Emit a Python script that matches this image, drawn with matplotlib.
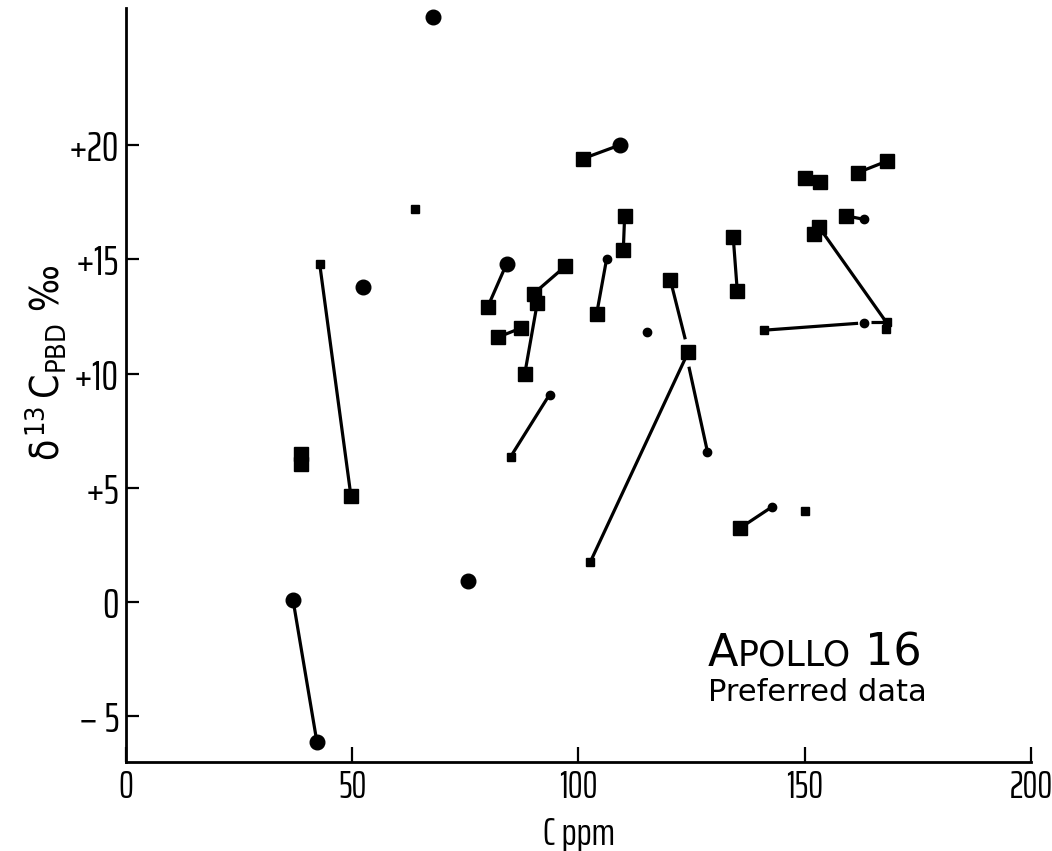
import matplotlib
matplotlib.use("Agg")
import matplotlib.pyplot as plt
from matplotlib import font_manager
from matplotlib.offsetbox import TextArea, HPacker, AnnotationBbox

# the axis numbers are tall and narrow: take an extra-condensed face if any
def pick_font():
    def wt(w):
        return w if isinstance(w, (int, float)) else font_manager.weight_dict.get(w, 400)
    cands = [f for f in font_manager.fontManager.ttflist
             if 'ExtraCondensed' in f.name and f.style == 'normal']
    if cands:
        best = min(cands, key=lambda f: abs(wt(f.weight) - 400))
        return best.name, best.weight, best.stretch
    return 'DejaVu Sans', 'normal', 'condensed'

font_name, font_weight, font_stretch = pick_font()
plt.rcParams['font.family'] = [font_name, 'DejaVu Sans']
plt.rcParams['font.weight'] = font_weight
plt.rcParams['font.stretch'] = font_stretch
plt.rcParams['mathtext.fontset'] = 'custom'
plt.rcParams['mathtext.rm'] = 'DejaVu Sans'
plt.rcParams['mathtext.it'] = 'DejaVu Sans'

# --- data (C ppm, delta13C permil) ---
big_sq_x = [49.7, 38.6, 38.6, 88.1, 124.3, 100.9, 110.2, 109.9, 79.9, 97.1, 90.1,
            90.9, 82.3, 87.4, 104.0, 120.3, 134.2, 135.1, 150.1, 153.4, 161.8,
            168.2, 159.2, 153.2, 152.1, 135.8]
big_sq_y = [4.65, 6.5, 6.05, 9.96, 10.96, 19.4, 16.9, 15.4, 12.9, 14.7, 13.5,
            13.1, 11.6, 12.0, 12.6, 14.1, 15.96, 13.6, 18.55, 18.4, 18.8,
            19.3, 16.9, 16.4, 16.1, 3.25]

small_sq_x = [63.8, 42.8, 85.0, 102.6, 141.1, 150.1, 168.2, 168.0]
small_sq_y = [17.2, 14.8, 6.36, 1.75, 11.9, 4.0, 12.25, 11.95]

big_dot_x = [67.8, 52.3, 36.9, 42.2, 75.5, 109.1, 84.1]
big_dot_y = [25.6, 13.8, 0.1, -6.14, 0.92, 20.0, 14.8]

small_dot_x = [93.6, 128.5, 106.2, 115.2, 163.1, 163.1, 142.8]
small_dot_y = [9.08, 6.58, 15.0, 11.8, 16.75, 12.2, 4.17]

# tie lines between paired analyses
link_x0 = [42.8, 36.9, 100.9, 110.2, 84.1, 97.1, 90.9, 82.3, 106.2, 120.3,
           102.6, 124.4, 85.0, 134.2, 150.1, 161.8, 159.2, 153.2, 141.1, 164.6, 135.8]
link_y0 = [14.8, 0.1, 19.4, 16.9, 14.8, 14.7, 13.1, 11.6, 15.0, 14.1,
           1.75, 10.3, 6.36, 15.96, 18.55, 18.8, 16.9, 16.4, 11.9, 12.25, 3.25]
link_x1 = [49.7, 42.2, 109.1, 109.9, 79.9, 90.1, 88.1, 87.4, 104.0, 123.6,
           124.3, 128.5, 93.6, 135.1, 153.4, 168.2, 163.1, 168.2, 161.8, 168.2, 142.8]
link_y1 = [4.65, -6.14, 20.0, 15.4, 12.9, 13.5, 9.96, 12.0, 12.6, 11.5,
           10.96, 6.58, 9.08, 13.6, 18.4, 19.3, 16.75, 12.2, 12.2, 12.25, 4.17]

x_ticks = [0, 50, 100, 150, 200]
y_ticks = [-5, 0, 5, 10, 15, 20]
y_ticklabels = ['\u2212 5', '0', '+5', '+10', '+15', '+20']

fig = plt.figure(figsize=(10.52, 8.51), dpi=100)
ax = fig.add_axes([0.1198, 0.1046, 0.8602, 0.886])

for x0, y0, x1, y1 in zip(link_x0, link_y0, link_x1, link_y1):
    ax.plot([x0, x1], [y0, y1], color='black', lw=2.3, solid_capstyle='butt', zorder=2)

ax.plot(big_sq_x, big_sq_y, 's', color='black', ms=9.5, ls='none', zorder=3)
ax.plot(small_sq_x, small_sq_y, 's', color='black', ms=5.5, ls='none', zorder=3)
ax.plot(big_dot_x, big_dot_y, 'o', color='black', ms=10.5, ls='none', zorder=3)
ax.plot(small_dot_x, small_dot_y, 'o', color='black', ms=6, ls='none', zorder=3)

ax.set_xlim(0, 200)
ax.set_ylim(-7, 26)
ax.set_xticks(x_ticks)
ax.set_xticklabels([str(t) for t in x_ticks])
ax.set_yticks(y_ticks)
ax.set_yticklabels(y_ticklabels)

for side in ('top', 'right'):
    ax.spines[side].set_visible(False)
for side in ('left', 'bottom'):
    ax.spines[side].set_linewidth(2)

ax.tick_params(axis='x', direction='in', length=11, width=1.6, labelsize=27, pad=5)
ax.tick_params(axis='y', direction='in', length=9, width=1.6, labelsize=30, pad=5)

ax.set_xlabel('C ppm', fontsize=28, labelpad=8)
ax.set_ylabel(r'$\delta^{13}\,\mathrm{C}_{\mathrm{PBD}}$ ' + '\u2030', fontsize=28,
              family='DejaVu Sans', labelpad=8)
ax.yaxis.set_label_coords(-0.064, 0.53)

# "APOLLO 16" lettered in small caps, wider letters than the axis numbers
lettering = dict(family='DejaVu Sans', weight='normal', stretch='normal')
parts = [TextArea('A', textprops=dict(fontsize=32, **lettering)),
         TextArea('POLLO', textprops=dict(fontsize=25, **lettering)),
         TextArea(' 16', textprops=dict(fontsize=32, **lettering))]
box = HPacker(children=parts, align='baseline', pad=0, sep=0)
ax.add_artist(AnnotationBbox(box, (128.5, -2.25), xycoords='data', box_alignment=(0, 0.5),
                             frameon=False))
ax.text(128.7, -3.95, 'Preferred data', fontsize=22, va='center', ha='left', **lettering)

fig.savefig('out.png', dpi=100)
